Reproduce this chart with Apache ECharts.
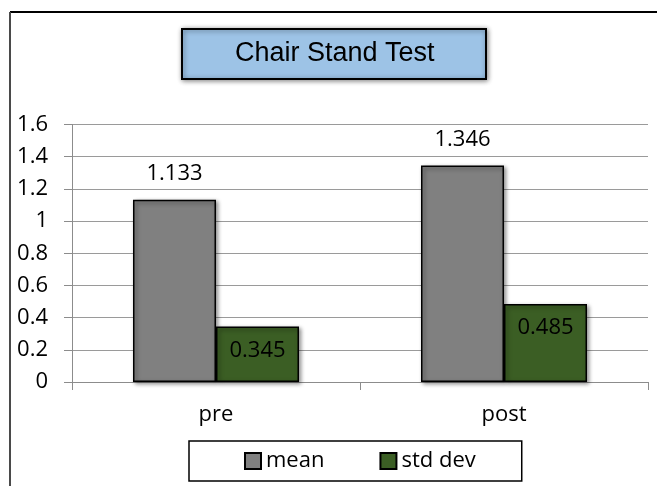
<!DOCTYPE html>
<html>
<head>
<meta charset="utf-8">
<script src="https://cdn.jsdelivr.net/npm/echarts@6/dist/echarts.min.js"></script>
<style>
  html, body { margin: 0; padding: 0; background: #fff; }
  #main { width: 657px; height: 486px; }
</style>
</head>
<body>
<div id="main"></div>
<script>
var categories = ['pre', 'post'];
var meanValues = [1.133, 1.346];
var stdValues = [0.345, 0.485];
var seriesNames = ['mean', 'std dev'];

var fontFam = '"Open Sans", "Noto Sans", sans-serif';

var chart = echarts.init(document.getElementById('main'));
chart.setOption({
  animation: false,
  backgroundColor: '#fff',
  title: {
    text: 'Chair Stand Test',
    left: 182,
    top: 29,
    padding: [9, 52, 9, 53],
    backgroundColor: '#9dc3e6',
    borderColor: '#000',
    borderWidth: 2,
    shadowColor: 'rgba(0,0,0,0.45)',
    shadowBlur: 5,
    shadowOffsetX: 1,
    shadowOffsetY: 1,
    textStyle: {
      fontFamily: '"Liberation Sans", Arial, sans-serif',
      fontSize: 27,
      fontWeight: 'normal',
      color: '#000',
      lineHeight: 32
    }
  },
  legend: {
    data: seriesNames,
    left: 189,
    top: 441,
    padding: [9, 46, 9, 55],
    itemGap: 55,
    itemWidth: 16,
    itemHeight: 16,
    icon: 'rect',
    borderColor: '#000',
    borderWidth: 1.5,
    backgroundColor: '#fff',
    textStyle: { fontFamily: fontFam, fontSize: 22, color: '#000' }
  },
  grid: { left: 72, right: 9, top: 124.5, bottom: 104 },
  xAxis: {
    type: 'category',
    data: categories,
    axisLine: { lineStyle: { color: '#8c8c8c', width: 1 } },
    axisTick: { show: true, length: 8, lineStyle: { color: '#8c8c8c' } },
    axisLabel: { margin: 22, fontFamily: fontFam, fontSize: 22, color: '#000' }
  },
  yAxis: {
    type: 'value',
    min: 0,
    max: 1.6,
    interval: 0.2,
    axisLine: { show: true, lineStyle: { color: '#8c8c8c', width: 1 } },
    axisTick: { show: true, length: 8, lineStyle: { color: '#8c8c8c' } },
    axisLabel: { margin: 24, fontFamily: fontFam, fontSize: 22, color: '#000' },
    splitLine: { lineStyle: { color: '#9a9a9a', width: 1 } }
  },
  series: [
    {
      name: seriesNames[0],
      type: 'bar',
      data: meanValues,
      barWidth: 83,
      barGap: 0,
      itemStyle: {
        color: '#808080',
        borderColor: '#000',
        borderWidth: 1.5,
        shadowColor: 'rgba(0,0,0,0.45)',
        shadowBlur: 4,
        shadowOffsetX: 2,
        shadowOffsetY: 2
      },
      label: {
        show: true,
        position: 'top',
        distance: 15,
        fontFamily: fontFam,
        fontSize: 22,
        color: '#000'
      }
    },
    {
      name: seriesNames[1],
      type: 'bar',
      data: stdValues,
      barWidth: 83,
      barGap: 0,
      itemStyle: {
        color: '#3b5e24',
        borderColor: '#000',
        borderWidth: 1.5,
        shadowColor: 'rgba(0,0,0,0.45)',
        shadowBlur: 4,
        shadowOffsetX: 2,
        shadowOffsetY: 2
      },
      label: {
        show: true,
        position: 'insideTop',
        distance: 13,
        fontFamily: fontFam,
        fontSize: 22,
        color: '#000'
      }
    }
  ],
  graphic: [
    { type: 'line', shape: { x1: 10, y1: 12, x2: 657, y2: 12 }, style: { stroke: '#000', lineWidth: 2 } },
    { type: 'line', shape: { x1: 10, y1: 12, x2: 10, y2: 486 }, style: { stroke: '#4a4a4a', lineWidth: 2 } }
  ]
});
</script>
</body>
</html>
